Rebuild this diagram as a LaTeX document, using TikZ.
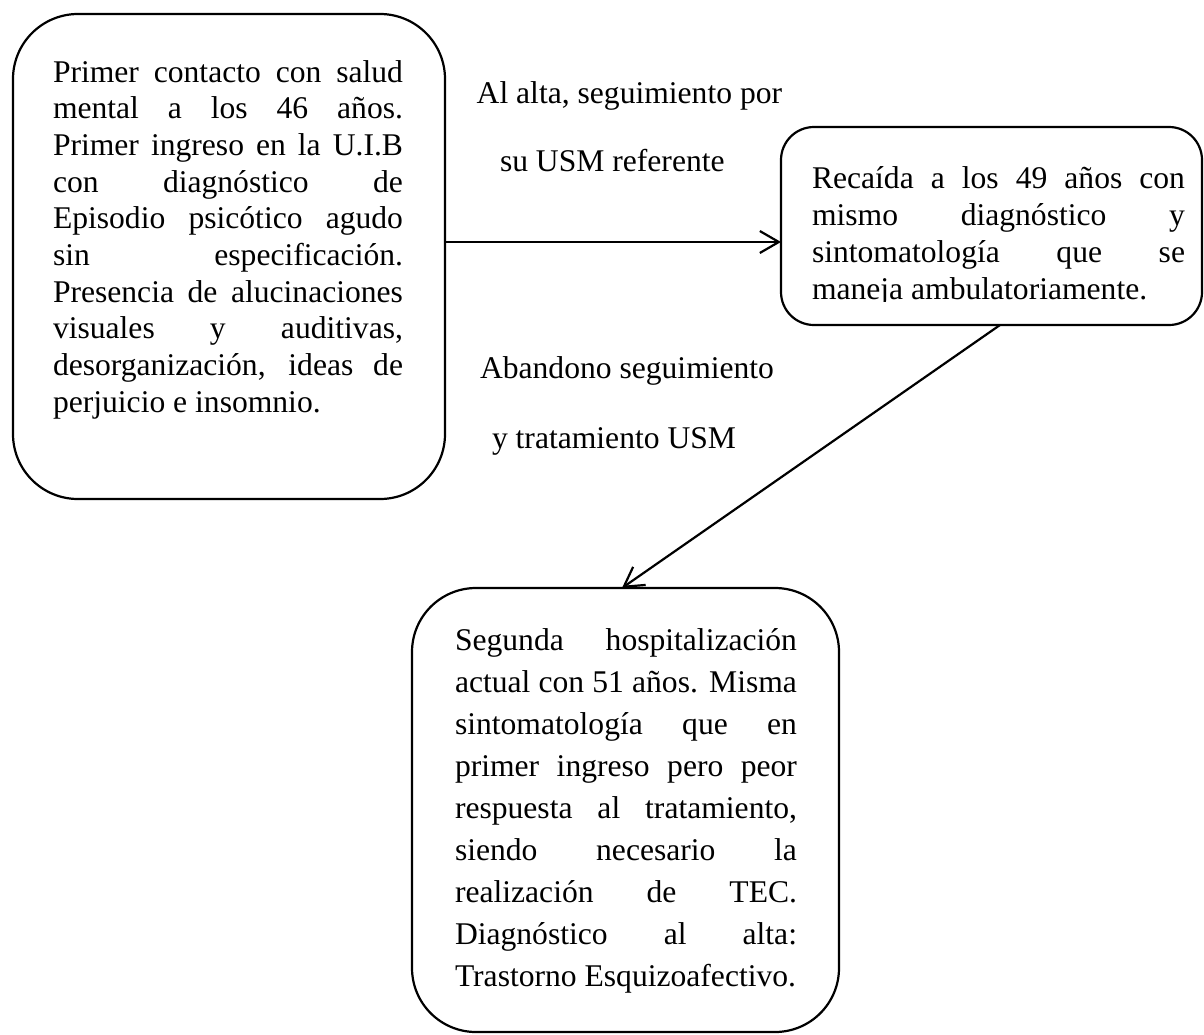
\documentclass[tikz,border=0pt]{standalone}
\usepackage{fontspec}
\setmainfont{Liberation Serif}
\usetikzlibrary{arrows.meta}
\newdimen\LW
\newcommand\JL[1]{\hbox to\LW{#1}}
\tikzset{
  box/.style={draw, line width=2.2pt, inner sep=0pt, outer sep=0pt},
  txt/.style={inner sep=0pt, outer sep=0pt, anchor=base west},
  arr/.style={line width=2.2pt, -{Straight Barb[length=19pt,width=22pt]}}
}
\begin{document}
\begin{tikzpicture}[x=1pt,y=-1pt]
\useasboundingbox (0,0) rectangle (1204,1034);
% boxes
\node[box, minimum width=432pt, minimum height=485pt, rounded corners=65pt] (b1) at (229,256.5) {};
\node[box, minimum width=421pt, minimum height=198pt, rounded corners=33pt] (b2) at (991.5,226) {};
\node[box, minimum width=427pt, minimum height=444pt, rounded corners=64pt] (b3) at (625.5,810) {};
% box texts
\node[txt, font=\fontsize{31.6pt}{36.7pt}\selectfont] (t1) at (53,82) {\vtop{\LW=350pt
  \JL{Primer contacto con salud}
  \JL{mental a los 46 años.}
  \JL{Primer ingreso en la U.I.B}
  \JL{con diagnóstico de}
  \JL{Episodio psicótico agudo}
  \JL{sin especificación.}
  \JL{Presencia de alucinaciones}
  \JL{visuales y auditivas,}
  \JL{desorganización, ideas de}
  \hbox{perjuicio e insomnio.}}};
\begin{scope}
\clip (781,127) rectangle (1202,301);
\node[txt, font=\fontsize{31.6pt}{37.2pt}\selectfont] (t2) at (812,188) {\vtop{\LW=373pt
  \JL{Recaída a los 49 años con}
  \JL{mismo diagnóstico y}
  \JL{sintomatología que se}
  \hbox{maneja ambulatoriamente.}}};
\end{scope}
\node[txt, font=\fontsize{31.6pt}{42pt}\selectfont] (t3) at (455,650) {\vtop{\LW=342pt
  \JL{Segunda hospitalización}
  \JL{actual con 51 años. Misma}
  \JL{sintomatología que en}
  \JL{primer ingreso pero peor}
  \JL{respuesta al tratamiento,}
  \JL{siendo necesario la}
  \JL{realización de TEC.}
  \JL{Diagnóstico al alta:}
  \hbox{Trastorno Esquizoafectivo.}}};
% labels
\node[txt, font=\fontsize{31.6pt}{68.7pt}\selectfont] (l1) at (476.7,103) {\vtop{
  \hbox{Al alta, seguimiento por}
  \hbox{\kern23.3pt su USM referente}}};
\node[txt, font=\fontsize{31.6pt}{70pt}\selectfont] (l2) at (480,378) {\vtop{
  \hbox{Abandono seguimiento}
  \hbox{\kern12pt y tratamiento USM}}};
% connectors
\draw[arr] ([yshift=14.5pt]b1.east) -- ([yshift=14.5pt]b1.east -| b2.west);
\draw[arr] ([xshift=8.5pt]b2.south) -- ([xshift=-3.5pt]b3.north);
\end{tikzpicture}
\end{document}
